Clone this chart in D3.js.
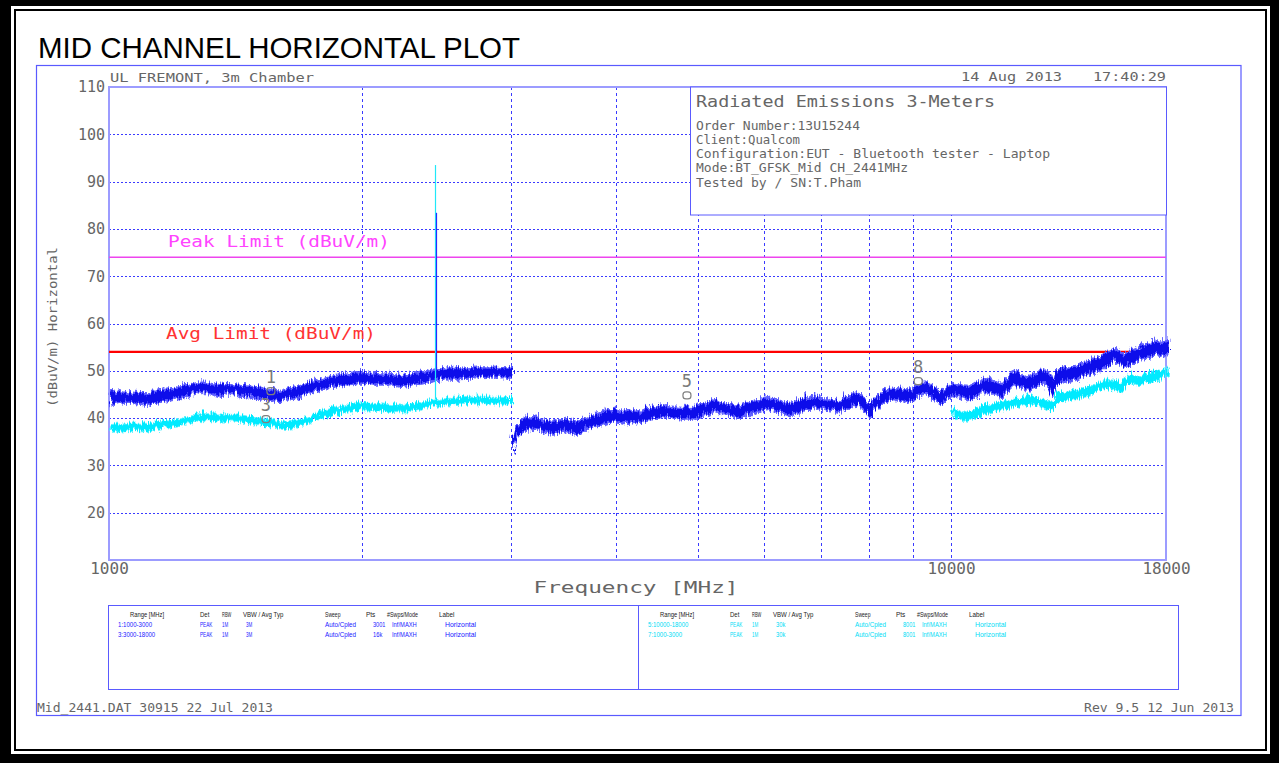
<!DOCTYPE html>
<html>
<head>
<meta charset="utf-8">
<script src="https://cdn.jsdelivr.net/npm/d3@7"></script>
<style>
  body { margin: 0; background: #fff; }
  svg { display: block; }
</style>
</head>
<body>
<svg id="chart" width="1279" height="763"></svg>
<script>
// ---------- chart data ----------
// Traces are stored as [frequency MHz, min dBuV/m, max dBuV/m] (noise envelope of the sweep)
const peakSweep1 = [ // 1:1000-3000 MHz, PEAK, RBW 1M / VBW 3M
  [1000,43.2,46.0],[1030,43.6,46.2],[1060,43.5,45.9],[1103,43.1,45.8],[1150,43.9,46.6],
  [1200,44.6,47.2],[1240,45.2,47.8],[1276,45.6,48.3],[1320,45.5,47.9],[1350,45.0,47.8],
  [1390,45.4,47.7],[1423,45.0,47.6],[1460,44.9,47.4],[1500,44.5,47.2],[1540,44.2,46.8],
  [1587,43.9,46.4],[1620,44.5,46.8],[1650,44.3,47.0],[1700,45.3,47.9],[1740,46.0,48.6],
  [1771,46.3,48.9],[1810,46.8,49.3],[1850,47.0,49.7],[1900,47.4,50.0],[1975,47.8,50.3],
  [2040,47.6,50.1],[2100,47.6,50.0],[2170,47.3,49.8],[2247,47.0,49.6],[2300,47.6,50.2],
  [2350,47.9,50.4],[2400,48.2,50.7],[2446,48.5,51.0],
  [2500,48.7,51.2],[2550,48.6,51.4],[2620,48.8,51.2],[2699,48.9,51.4],[2780,49.0,51.5],
  [2850,49.1,51.4],[2920,48.9,51.3],[2995,48.8,51.2]
];
const peakSweep3 = [ // 3:3000-18000 MHz, PEAK, RBW 1M / VBW 3M
  [3002,32.8,36.8],[3012,35.0,38.2],[3030,36.2,39.0],[3060,37.0,39.8],[3100,37.8,40.6],
  [3150,38.0,41.0],[3206,38.0,40.8],[3260,37.4,40.2],[3330,37.0,39.8],[3386,37.2,39.9],
  [3450,37.6,40.4],[3520,37.2,40.0],[3576,37.0,39.8],[3650,37.8,40.6],[3750,38.6,41.4],
  [3882,39.4,42.2],[3980,39.6,42.3],[4080,39.2,42.0],[4180,39.5,42.2],[4250,39.3,41.9],
  [4350,40.0,42.8],[4450,40.4,43.1],[4575,40.6,43.3],[4680,40.3,43.0],[4800,40.2,42.9],
  [4923,40.2,42.9],[5050,40.9,43.6],[5202,41.8,44.6],[5300,41.4,44.0],[5420,40.9,43.5],
  [5540,40.4,43.1],[5650,40.9,43.6],[5800,41.6,44.4],[6015,42.2,45.0],[6120,41.9,44.7],
  [6250,41.4,44.2],[6403,41.1,43.8],[6550,41.6,44.4],[6700,42.2,45.0],[6896,42.5,45.3],
  [7000,42.1,44.8],[7150,41.9,44.6],[7341,41.5,44.3],[7450,42.3,45.1],[7600,43.0,45.8],
  [7691,43.1,46.0],[7800,42.4,45.2],[7900,41.0,43.8],[7969,40.6,43.4],[8100,42.0,44.8],
  [8250,43.6,46.5],[8418,44.2,47.0],[8550,44.3,46.9],[8700,44.0,46.7],[8890,43.8,46.6],
  [9050,44.8,47.6],[9238,45.6,48.4],[9400,45.0,47.8],[9550,43.9,46.6],[9652,43.2,46.0],
  [9800,44.4,47.1],[9950,45.2,48.0],[10100,44.9,47.7],[10440,44.2,47.6],[10700,45.0,48.2],
  [10910,45.8,49.0],[11150,45.4,48.6],[11430,44.7,47.9],[11650,46.2,49.5],[11820,47.4,50.8],
  [12050,46.8,50.0],[12310,46.1,49.3],[12550,47.0,50.3],[12760,47.9,51.1],[12950,47.0,50.2],
  [13110,45.0,48.4],[13200,46.6,50.0],[13360,47.9,51.1],[13800,48.3,51.5],[14230,49.0,52.2],
  [14600,49.7,52.9],[15030,50.8,54.0],[15300,51.5,54.8],[15570,52.2,55.4],[15800,51.6,54.7],
  [15960,50.8,54.0],[16200,51.6,54.9],[16400,52.0,55.2],[16770,52.9,56.1],[17100,53.1,56.3],
  [17380,53.9,57.2],[17600,53.4,56.6],[17860,53.6,56.8],[18000,54.0,57.2]
];
const avgSweep7 = [ // 7:1000-3000 MHz, RBW 1M / VBW 30k
  [1000,37.6,39.3],[1050,37.8,39.4],[1103,37.7,39.3],[1150,38.2,39.9],[1200,38.8,40.4],
  [1276,39.9,41.6],[1350,39.8,41.5],[1400,39.8,41.4],[1450,39.5,41.1],[1500,39.0,40.6],
  [1536,38.7,40.3],[1600,38.2,39.8],[1650,38.4,40.0],[1700,38.9,40.5],[1771,40.3,42.0],
  [1850,41.1,42.8],[1920,41.8,43.4],[1975,42.2,43.9],[2050,42.1,43.7],[2100,41.9,43.6],
  [2247,41.7,43.3],[2300,42.1,43.8],[2350,42.5,44.1],[2439,43.0,44.6],
  [2500,43.2,44.8],[2600,43.3,44.9],[2700,43.4,45.1],[2800,43.5,45.1],
  [2900,43.4,45.0],[2995,43.4,45.0]
];
const avgSweep5 = [ // 5:10000-18000 MHz, RBW 1M / VBW 30k
  [10000,40.7,42.7],[10200,40.2,42.1],[10390,39.7,41.7],[10550,40.3,42.2],[10700,40.6,42.6],
  [10910,41.4,43.4],[11100,41.6,43.5],[11300,41.8,43.8],[11660,42.5,44.5],[12000,42.9,44.9],
  [12310,43.2,45.2],[12550,42.9,44.8],[12800,42.6,44.6],[13000,42.2,44.1],[13110,41.8,43.8],
  [13290,43.9,45.9],[13550,44.1,46.1],[13800,44.4,46.4],[14100,44.6,46.6],[14350,44.9,46.9],
  [14700,45.8,47.8],[15150,46.7,48.7],[15500,46.4,48.4],[15880,46.0,48.0],[16180,47.9,49.9],
  [16400,47.8,49.7],[16600,47.5,49.5],[17090,48.1,50.1],[17350,48.4,50.4],[17600,48.6,50.6],
  [17850,49.0,51.0],[18000,49.2,51.2]
];
// carrier at 2441 MHz: [frequency MHz, trace level, spike top] in dBuV/m
const avgCarrier = [2439, 44.0, 93.5];
const peakCarrier = [2446, 50.0, 83.4];

const limitNames = ["Peak Limit (dBuV/m)", "Avg Limit (dBuV/m)"];
const limitValues = [74, 54];

const markerLabels = ["1", "3", "5", "8"];
const markerFreqs = [1557, 1536, 4857, 9140];
const markerLevels = [45.7, 39.8, 44.8, 47.8];

const yTickValues = [20, 30, 40, 50, 60, 70, 80, 90, 100, 110];
const yGridValues = [20, 30, 40, 50, 60, 70, 80, 90, 100];
const xTickValues = [1000, 10000, 18000];
const xGridValues = [2000, 3000, 4000, 5000, 6000, 7000, 8000, 9000, 10000];

const infoTitle = "Radiated Emissions 3-Meters";
const infoLines = [
  "Order Number:13U15244",
  "Client:Qualcom",
  "Configuration:EUT - Bluetooth tester - Laptop",
  "Mode:BT_GFSK_Mid CH_2441MHz",
  "Tested by / SN:T.Pham"
];

const tableHeader = ["Range [MHz]", "Det", "RBW", "VBW / Avg Typ", "Sweep", "Pts", "#Swps/Mode", "Label"];
const peakRows = [
  ["1:1000-3000", "PEAK", "1M", "3M", "Auto/Cpled", "3001", "Inf/MAXH", "Horizontal"],
  ["3:3000-18000", "PEAK", "1M", "3M", "Auto/Cpled", "16k", "Inf/MAXH", "Horizontal"]
];
const avgRows = [
  ["5:10000-18000", "PEAK", "1M", "30k", "Auto/Cpled", "8001", "Inf/MAXH", "Horizontal"],
  ["7:1000-3000", "PEAK", "1M", "30k", "Auto/Cpled", "8001", "Inf/MAXH", "Horizontal"]
];

// ---------- layout ----------
const W = 1279, H = 763;
const plot = { left: 109, right: 1166, top: 87, bottom: 560 };
const MONO = "'DejaVu Sans Mono', monospace";
const SANS = "'Liberation Sans', Arial, sans-serif";
const GRID = "#3a3aff";
const FRAME = "#5a5aff";
const INK = "#666";

const svg = d3.select("#chart");

// jitter filter that gives the swept traces their noisy edges
const defs = svg.append("defs");
const f = defs.append("filter").attr("id", "sweepNoise")
  .attr("filterUnits", "userSpaceOnUse")
  .attr("x", 100).attr("y", 80).attr("width", 1080).attr("height", 490);
f.append("feTurbulence").attr("type", "turbulence")
  .attr("baseFrequency", "0.45 0.06").attr("numOctaves", 2).attr("seed", 3).attr("result", "n");
f.append("feDisplacementMap").attr("in", "SourceGraphic").attr("in2", "n")
  .attr("scale", 9).attr("xChannelSelector", "B").attr("yChannelSelector", "R");

// page border: heavy black edge with a thin inner rule
svg.append("rect").attr("width", W).attr("height", H).attr("fill", "#000");
svg.append("rect").attr("x", 11).attr("y", 6).attr("width", 1259).attr("height", 748).attr("fill", "#fff");
svg.append("rect").attr("x", 15).attr("y", 10).attr("width", 1251).attr("height", 740)
  .attr("fill", "none").attr("stroke", "#000").attr("stroke-width", 2);

// title
svg.append("text").attr("x", 38).attr("y", 58)
  .attr("font-family", SANS).attr("font-size", 29).attr("fill", "#000")
  .attr("textLength", 482).attr("lengthAdjust", "spacingAndGlyphs")
  .text("MID CHANNEL HORIZONTAL PLOT");

// outer plot sheet frame
svg.append("rect").attr("x", 36.5).attr("y", 65.5).attr("width", 1204.5).attr("height", 650)
  .attr("fill", "none").attr("stroke", FRAME).attr("stroke-width", 1.2);

// helper for the plotter-style text
function label(g, x, y, str, opt) {
  const t = g.append("text").attr("x", x).attr("y", y)
    .attr("font-family", opt.family || MONO)
    .attr("font-size", opt.size)
    .attr("fill", opt.fill || INK)
    .attr("text-anchor", opt.anchor || "start")
    .text(str);
  if (opt.len) t.attr("textLength", opt.len).attr("lengthAdjust", "spacingAndGlyphs");
  if (opt.transform) t.attr("transform", opt.transform);
  return t;
}

// header lines
label(svg, 110, 82, "UL FREMONT, 3m Chamber", { size: 13, len: 204 });
label(svg, 961, 81, "14 Aug 2013", { size: 13, len: 101 });
label(svg, 1093, 81, "17:40:29", { size: 13, len: 73 });

// ---------- scales ----------
const x = d3.scaleLog().domain([1000, 18000]).range([plot.left, plot.right]);
const y = d3.scaleLinear().domain([10, 110]).range([plot.bottom, plot.top]);

// grid
const grid = svg.append("g");
grid.selectAll(".hg").data(yGridValues).join("line")
  .attr("x1", plot.left).attr("x2", plot.right)
  .attr("y1", d => Math.round(y(d)) + 0.5).attr("y2", d => Math.round(y(d)) + 0.5)
  .attr("stroke", GRID).attr("stroke-width", 1).attr("stroke-dasharray", "2,2");
grid.selectAll(".vg").data(xGridValues).join("line")
  .attr("x1", d => Math.round(x(d)) + 0.5).attr("x2", d => Math.round(x(d)) + 0.5)
  .attr("y1", plot.top).attr("y2", plot.bottom)
  .attr("stroke", GRID).attr("stroke-width", 1).attr("stroke-dasharray", "3,3");

// plot frame
svg.append("rect").attr("x", plot.left).attr("y", plot.top)
  .attr("width", plot.right - plot.left).attr("height", plot.bottom - plot.top)
  .attr("fill", "none").attr("stroke", "#9c9cff").attr("stroke-width", 2);

// axes (labels only, frame is drawn above)
const yAxis = svg.append("g").attr("transform", `translate(${plot.left},0)`)
  .call(d3.axisLeft(y).tickValues(yTickValues).tickSize(0).tickPadding(4).tickFormat(d3.format("d")));
yAxis.select(".domain").remove();
yAxis.selectAll("text").attr("font-family", MONO).attr("font-size", 15).attr("fill", INK);

const xAxis = svg.append("g").attr("transform", `translate(0,${plot.bottom})`)
  .call(d3.axisBottom(x).tickValues(xTickValues).tickSize(0).tickPadding(3).tickFormat(d3.format("d")));
xAxis.select(".domain").remove();
xAxis.selectAll("text").attr("font-family", MONO).attr("font-size", 16).attr("fill", INK);

// axis titles
label(svg, 636, 593, "Frequency [MHz]", { size: 16, len: 205, anchor: "middle" });
label(svg, 0, 0, "(dBuV/m) Horizontal", {
  size: 13, len: 160, anchor: "middle", transform: "translate(57,327) rotate(-90)"
});

// ---------- limit lines ----------
const limitColors = ["#ee44ee", "#ff0000"];
const limitTextColors = ["#ff44ff", "#ff3333"];
const limitTextPos = [[168, 247, 222], [166, 339, 210]];
limitValues.forEach((v, i) => {
  svg.append("line").attr("x1", plot.left).attr("x2", plot.right)
    .attr("y1", y(v)).attr("y2", y(v))
    .attr("stroke", limitColors[i]).attr("stroke-width", i === 0 ? 1.5 : 2.2);
  label(svg, limitTextPos[i][0], limitTextPos[i][1], limitNames[i],
    { size: 15, len: limitTextPos[i][2], fill: limitTextColors[i] });
});

// ---------- traces ----------
const outerArea = d3.area().x(d => x(d[0])).y0(d => y(d[1])).y1(d => y(d[2]));
const innerArea = (inset) => d3.area().x(d => x(d[0]))
  .y0(d => y(d[1] + inset)).y1(d => y(d[2] - inset));

const traces = svg.append("g").attr("filter", "url(#sweepNoise)");
function drawTrace(data, light, dark, inset) {
  traces.append("path").datum(data).attr("d", outerArea)
    .attr("fill", light).attr("stroke", light).attr("stroke-width", 1);
  traces.append("path").datum(data).attr("d", innerArea(inset))
    .attr("fill", dark).attr("stroke", dark).attr("stroke-width", 1);
}
drawTrace(avgSweep7, "#70f4ff", "#00eaff", 0.2);
drawTrace(avgSweep5, "#70f4ff", "#00eaff", 0.2);
drawTrace(peakSweep1, "#5c5cff", "#0808ea", 0.5);
drawTrace(peakSweep3, "#5c5cff", "#0808ea", 0.5);

// carrier spikes
[[avgCarrier, "#20e8f8"], [peakCarrier, "#2a2aff"]].forEach(([c, col]) => {
  svg.append("line")
    .attr("x1", Math.round(x(c[0])) + 0.5).attr("x2", Math.round(x(c[0])) + 0.5)
    .attr("y1", y(c[1])).attr("y2", y(c[2]))
    .attr("stroke", col).attr("stroke-width", 1.2);
});

// ---------- markers ----------
markerLabels.forEach((m, i) => {
  const cx = x(markerFreqs[i]), cy = y(markerLevels[i]);
  svg.append("rect").attr("x", cx - 4).attr("y", cy - 3.5).attr("width", 8).attr("height", 7)
    .attr("rx", 3).attr("fill", "none").attr("stroke", "#808080").attr("stroke-width", 1.2);
  label(svg, cx, cy - 8, m, { size: 17, anchor: "middle", fill: "#7a7a7a" });
});

// ---------- info box ----------
svg.append("rect").attr("x", 690.5).attr("y", 87).attr("width", 476).attr("height", 128)
  .attr("fill", "#fff").attr("stroke", FRAME).attr("stroke-width", 1);
label(svg, 696, 107, infoTitle, { size: 16, len: 299 });
const infoLens = [164, 104, 354, 212, 165];
infoLines.forEach((s, i) => {
  label(svg, 696, 129.5 + i * 14.3, s, { size: 12.5, len: infoLens[i] });
});

// ---------- sweep table ----------
svg.append("rect").attr("x", 108.5).attr("y", 605.5).attr("width", 1070).attr("height", 84)
  .attr("fill", "none").attr("stroke", FRAME).attr("stroke-width", 1);
svg.append("line").attr("x1", 638.5).attr("x2", 638.5).attr("y1", 605.5).attr("y2", 689.5)
  .attr("stroke", FRAME).attr("stroke-width", 1);

const headCols = [22, 92, 114, 135, 217, 258, 279, 331];
const rowCols = [10, 92, 114, 138, 217, 265, 284, 337];
const CELL_CHAR = 3.1; // narrow plotter glyph advance in the sweep table
function cell(x0, yb, str, color) {
  label(svg, x0, yb, str, { family: SANS, size: 7, fill: color, len: str.length * CELL_CHAR });
}
function drawTable(x0, rows, color) {
  tableHeader.forEach((h, j) => cell(x0 + headCols[j], 616.5, h, "#222"));
  rows.forEach((r, k) => r.forEach((c, j) => cell(x0 + rowCols[j], 626.5 + k * 10, c, color)));
}
drawTable(108, peakRows, "#2020ff");
drawTable(638, avgRows, "#00dcf5");

// ---------- footer ----------
label(svg, 37, 711.5, "Mid_2441.DAT 30915 22 Jul 2013", { size: 12, len: 236 });
label(svg, 1234, 711.5, "Rev 9.5 12 Jun 2013", { size: 12, len: 150, anchor: "end" });
</script>
</body>
</html>
